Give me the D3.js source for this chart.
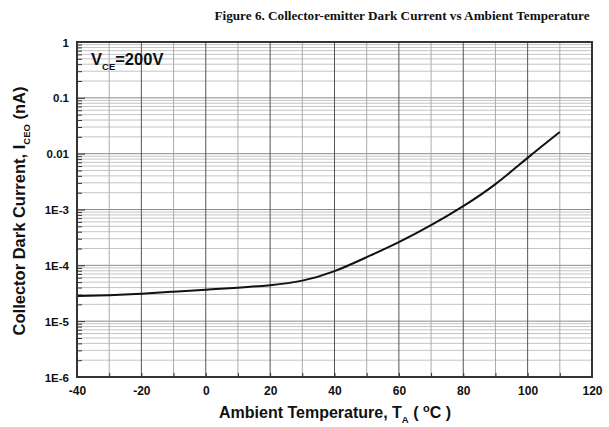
<!DOCTYPE html>
<html><head><meta charset="utf-8">
<script src="https://cdn.jsdelivr.net/npm/d3@7"></script>
<style>body{margin:0;background:#fff}svg{display:block}</style>
</head><body><svg id="c" width="609" height="427"></svg>
<script>
const temps   = [-40, -30, -20, -10, 0, 10, 20, 30, 40, 50, 60, 70, 80, 90, 100, 110];
const current = [2.81e-5, 2.92e-5, 3.11e-5, 3.38e-5, 3.67e-5, 3.98e-5, 4.42e-5, 5.32e-5, 7.87e-5, 1.40e-4, 2.61e-4, 5.25e-4, 1.15e-3, 2.85e-3, 8.4e-3, 0.0244];
const xTicks = [-40, -20, 0, 20, 40, 60, 80, 100, 120];
const yTicks = [1, 0.1, 0.01, 1e-3, 1e-4, 1e-5, 1e-6];
const yTickLabels = ["1", "0.1", "0.01", "1E-3", "1E-4", "1E-5", "1E-6"];

const svg = d3.select("#c");
const L = 77, R = 592, T = 42, B = 377;
const x = d3.scaleLinear().domain([-40, 120]).range([L, R]);
const y = d3.scaleLog().domain([1e-6, 1]).range([B, T]);

// minor horizontal grid
const minors = [];
for (let e = -6; e < 0; e++) for (let m = 2; m <= 9; m++) minors.push(m * Math.pow(10, e));
svg.append("g").selectAll("line").data(minors).join("line")
  .attr("x1", L).attr("x2", R).attr("y1", d => y(d)).attr("y2", d => y(d))
  .attr("stroke", "#c4c4c4").attr("stroke-width", 1);
// decade grid
svg.append("g").selectAll("line").data(yTicks).join("line")
  .attr("x1", L).attr("x2", R).attr("y1", d => y(d)).attr("y2", d => y(d))
  .attr("stroke", "#8a8a8a").attr("stroke-width", 1);
// vertical grid
const vx = d3.range(-30, 120, 10);
svg.append("g").selectAll("line").data(vx).join("line")
  .attr("x1", d => x(d)).attr("x2", d => x(d)).attr("y1", T).attr("y2", B)
  .attr("stroke", d => d % 20 === 0 ? "#555" : "#aaa").attr("stroke-width", 1);

// axes with inward ticks
const yAxis = d3.axisLeft(y).tickValues(minors.concat(yTicks)).tickSize(-4)
  .tickFormat(d => { const i = yTicks.indexOf(d); return i >= 0 ? yTickLabels[i] : ""; }).tickPadding(8);
const gy = svg.append("g").attr("transform", `translate(${L},0)`).call(yAxis);
gy.selectAll(".tick line").attr("stroke", "#333").attr("x2", d => yTicks.indexOf(d) >= 0 ? 8 : 5);
gy.selectAll("text").attr("font-family", "Liberation Sans, Arial, sans-serif").attr("font-weight", "bold")
  .attr("font-size", 11.5).attr("fill", "#111").attr("dy", "0.35em");
gy.select(".domain").remove();

const xAxis = d3.axisBottom(x).tickValues(d3.range(-40, 121, 10)).tickSize(-4)
  .tickFormat(d => xTicks.includes(d) ? d : "").tickPadding(9);
const gx = svg.append("g").attr("transform", `translate(0,${B})`).call(xAxis);
gx.selectAll(".tick line").attr("stroke", "#333");
gx.selectAll("text").attr("font-family", "Liberation Sans, Arial, sans-serif").attr("font-weight", "bold")
  .attr("font-size", 12).attr("fill", "#111");
gx.select(".domain").remove();

// curve
const line = d3.line().x(d => x(d[0])).y(d => y(d[1])).curve(d3.curveNatural);
svg.append("path").datum(temps.map((t, i) => [t, current[i]]))
  .attr("d", line).attr("fill", "none").attr("stroke", "#111").attr("stroke-width", 2);

// border
svg.append("rect").attr("x", L).attr("y", T).attr("width", R - L).attr("height", B - T)
  .attr("fill", "none").attr("stroke", "#333").attr("stroke-width", 2);

// title
svg.append("text").attr("x", 402).attr("y", 20).attr("text-anchor", "middle")
  .attr("font-family", "Liberation Serif, serif").attr("font-weight", "bold").attr("font-size", 13.2)
  .attr("fill", "#111").text("Figure 6. Collector-emitter Dark Current vs Ambient Temperature");

// annotation
const ann = svg.append("text").attr("x", 91).attr("y", 65)
  .attr("font-family", "Liberation Sans, Arial, sans-serif").attr("font-weight", "bold").attr("font-size", 16.5).attr("fill", "#111");
ann.append("tspan").text("V");
ann.append("tspan").attr("font-size", 9.5).attr("dy", 5).text("CE");
ann.append("tspan").attr("dy", -5).text("=200V");

// x title
const xt = svg.append("text").attr("x", 335).attr("y", 418).attr("text-anchor", "middle")
  .attr("font-family", "Liberation Sans, Arial, sans-serif").attr("font-weight", "bold").attr("font-size", 16).attr("fill", "#111");
xt.append("tspan").text("Ambient Temperature, T");
xt.append("tspan").attr("font-size", 9.5).attr("dy", 5).text("A");
xt.append("tspan").attr("dy", -5).text("\u00a0(\u00a0");
xt.append("tspan").attr("font-size", 11).attr("dy", -6).text("o");
xt.append("tspan").attr("dy", 6).text("C\u00a0)");

// y title
const yt = svg.append("text").attr("transform", "translate(25,211) rotate(-90)").attr("text-anchor", "middle")
  .attr("font-family", "Liberation Sans, Arial, sans-serif").attr("font-weight", "bold").attr("font-size", 16.5).attr("fill", "#111");
yt.append("tspan").text("Collector Dark Current, I");
yt.append("tspan").attr("font-size", 9.5).attr("dy", 5).text("CEO");
yt.append("tspan").attr("dy", -5).text("\u00a0(nA)");
</script></body></html>
